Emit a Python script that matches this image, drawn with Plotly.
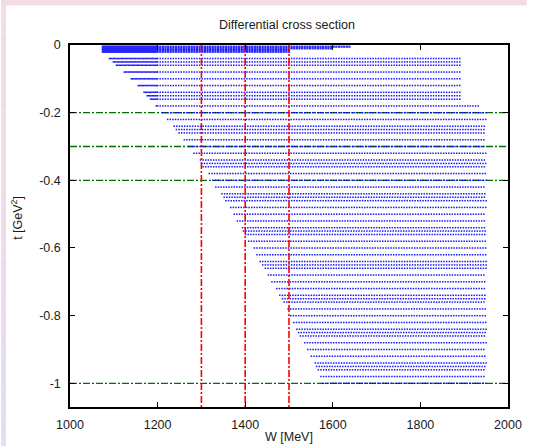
import numpy as np
import plotly.graph_objects as go

# ---- data ----
t_cluster = [-0.005, -0.01, -0.015, -0.02]
w_cluster_min = [1075, 1075, 1075, 1075]
w_cluster_max = [1640, 1600, 1505, 1505]

t_rows = [-0.04, -0.05, -0.06, -0.08, -0.10, -0.12, -0.14, -0.15, -0.16, -0.18,
          -0.20, -0.22, -0.24, -0.25, -0.26, -0.28, -0.30, -0.32, -0.34, -0.35,
          -0.36, -0.38, -0.40, -0.42, -0.44, -0.45, -0.46, -0.48, -0.50, -0.52,
          -0.54, -0.55, -0.56, -0.58, -0.60, -0.62, -0.64, -0.65, -0.66, -0.68,
          -0.70, -0.72, -0.74, -0.75, -0.76, -0.78, -0.80, -0.82, -0.84, -0.85,
          -0.86, -0.88, -0.90, -0.92, -0.94, -0.95, -0.96, -0.98, -1.00]
w_min = [1090, 1099, 1106, 1124, 1140, 1156, 1169, 1176, 1184, 1197,
         1212, 1223, 1238, 1243, 1249, 1261, 1273, 1283, 1298, 1301,
         1304, 1318, 1326, 1333, 1347, 1352, 1356, 1367, 1375, 1382,
         1394, 1396, 1401, 1408, 1421, 1427, 1434, 1440, 1446, 1453,
         1461, 1472, 1479, 1485, 1489, 1498, 1504, 1511, 1518, 1522,
         1526, 1536, 1543, 1551, 1560, 1563, 1567, 1573, 1577]
w_max = [1895] * 9 + [1935] + [1950] * 49

w_fine_step = 3      # MeV, below 1200
w_coarse_step = 6    # MeV, above 1200
w_switch = 1200

red_w = [1300, 1400, 1500]
green_t = [-0.2, -0.3, -0.4, -1.0]

x_ticks = [1000, 1200, 1400, 1600, 1800, 2000]
y_ticks = [0, -0.2, -0.4, -0.6, -0.8, -1]
y_tick_text = ["0", "-0.2", "-0.4", "-0.6", "-0.8", "-1"]


def grid(t_list, a_list, b_list):
    xs, ys = [], []
    for tt, a, b in zip(t_list, a_list, b_list):
        fine = np.arange(a, min(b, w_switch), w_fine_step)
        coarse = np.arange(max(a, w_switch), b + 0.01, w_coarse_step)
        w = np.concatenate([fine, coarse])
        xs.append(w)
        ys.append(np.full(len(w), tt))
    return np.concatenate(xs), np.concatenate(ys)


cx, cy = grid(t_cluster, w_cluster_min, w_cluster_max)
mx, my = grid(t_rows, w_min, w_max)

fig = go.Figure()

gx, gy = [], []
for tt in green_t:
    gx += [1000, 2000, None]
    gy += [tt, tt, None]
fig.add_trace(go.Scatter(x=gx, y=gy, mode="lines",
                         line=dict(color="rgb(0,110,0)", width=1.3, dash="7px,2px,2px,2px"),
                         showlegend=False, hoverinfo="skip"))

fig.add_trace(go.Scatter(x=cx, y=cy, mode="markers",
                         marker=dict(symbol="square", size=2.2, color="rgb(0,0,255)",
                                     line=dict(width=0)),
                         opacity=0.85, showlegend=False))
fig.add_trace(go.Scatter(x=mx, y=my, mode="markers",
                         marker=dict(symbol="square", size=1.5, color="rgb(0,0,255)",
                                     line=dict(width=0)),
                         opacity=0.9, showlegend=False))

rx, ry = [], []
for w in red_w:
    rx += [w, w, None]
    ry += [0, -1.07, None]
fig.add_trace(go.Scatter(x=rx, y=ry, mode="lines",
                         line=dict(color="rgb(255,0,0)", width=1.6, dash="7px,2px,2px,2px"),
                         showlegend=False, hoverinfo="skip"))

# ---- frame decoration (pink/lavender border) ----
L, R, T, B = 70, 515, 45, 407
W, H = 534, 446
pw, ph = R - L, B - T
def px(X):
    return (X - L) / pw
def py(Y):
    return (B - Y) / ph

shapes = []
shapes.append(dict(type="rect", xref="paper", yref="paper",
                   x0=px(0), x1=px(W), y0=py(5.5), y1=py(0),
                   fillcolor="rgb(245,220,224)", line=dict(width=0), layer="below"))
N = 40
c0 = np.array([245, 220, 224])
c1 = np.array([228, 221, 243])
for i in range(N):
    f = i / (N - 1)
    c = (c0 * (1 - f) + c1 * f).astype(int)
    shapes.append(dict(type="rect", xref="paper", yref="paper",
                       x0=px(0), x1=px(5), y0=py(H * (i + 1) / N), y1=py(H * i / N),
                       fillcolor=f"rgb({c[0]},{c[1]},{c[2]})", line=dict(width=0), layer="below"))

font = dict(family="Liberation Sans, Arial, sans-serif", size=12.5, color="#1a1a1a")

fig.update_layout(
    width=W, height=H,
    margin=dict(l=L, r=W - R, t=T, b=H - B),
    paper_bgcolor="white", plot_bgcolor="white",
    font=font,
    shapes=shapes,
    title=dict(text="Differential cross section", x=287 / W, xanchor="center",
               y=1 - 25 / H, yanchor="middle", yref="container",
               font=dict(family="Liberation Sans, Arial, sans-serif", size=12.5, color="#1a1a1a")),
    annotations=[
        dict(text="W [MeV]", xref="paper", yref="paper", x=px(293), y=py(437),
             showarrow=False, xanchor="center", yanchor="middle", font=font),
        dict(text="t [GeV<sup>2</sup>]", xref="paper", yref="paper", x=px(16), y=py(218),
             showarrow=False, xanchor="center", yanchor="middle", textangle=-90, font=font),
    ],
)
fig.update_xaxes(range=[1000, 2000], tickvals=x_ticks, ticktext=[str(v) for v in x_ticks],
                 ticks="inside", ticklen=5, tickwidth=1, tickcolor="black",
                 showline=True, linecolor="black", linewidth=1.5, mirror="ticks",
                 showgrid=False, zeroline=False, ticklabelstandoff=5)
fig.update_yaxes(range=[-1.07, 0], tickvals=y_ticks, ticktext=y_tick_text,
                 ticks="inside", ticklen=5, tickwidth=1, tickcolor="black",
                 showline=True, linecolor="black", linewidth=1.5, mirror="ticks",
                 showgrid=False, zeroline=False, ticklabelstandoff=5)

fig.write_html("out.html")
